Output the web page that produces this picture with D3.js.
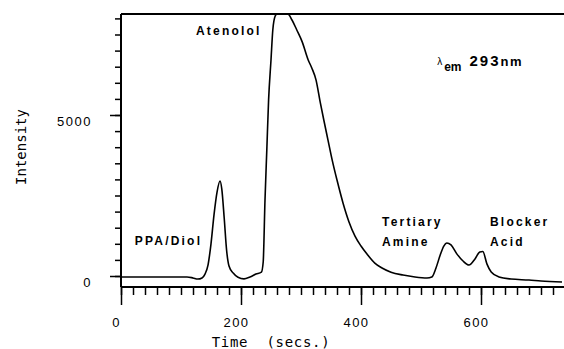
<!DOCTYPE html>
<html>
<head>
<meta charset="utf-8">
<script src="https://cdn.jsdelivr.net/npm/d3@7"></script>
<style>
  html, body { margin: 0; padding: 0; background: #fff; }
  svg { display: block; }
</style>
</head>
<body>
<svg id="chart" width="564" height="349"></svg>
<script>
// Chromatogram trace
const timeSecs = [
    0, 60, 110, 120, 128, 135, 140, 145, 150, 155, 160, 165, 168, 172, 176, 180,
    187, 195, 205, 215, 225, 234, 237, 240, 243, 246, 250, 253, 257, 260, 278,
    285, 293, 302, 312, 318, 325, 332, 338, 345, 352, 360, 370, 380, 390, 400,
    410, 423, 435, 450, 470, 490, 510, 518, 525, 532, 538, 543, 550, 560, 570,
    580, 590, 598, 603, 610, 617, 630, 650, 680, 700, 735,
];
const intensity = [
    -30, -30, -30, -60, -95, -60, 60, 340, 1000, 1900, 2600, 2950, 2700, 1800, 800, 310,
    90, -40, -90, -30, 60, 120, 435, 2360, 3910, 5470, 6710, 7640, 8075, 8140, 8140,
    7950, 7640, 7270, 6710, 6460, 6090, 5400, 4845, 4220, 3600, 2980, 2270, 1680, 1240, 930,
    680, 400, 250, 120, 30, -30, -60, -30, 250, 650, 930, 1025, 965, 680, 465,
    340, 530, 745, 760, 370, 125, -30, -95, -125, -155, -185,
];

const yMinorTicks = d3.range(0, 8001, 500);
const yMajorTicks = [0, 5000];
const xMinorTicks = d3.range(0, 735, 20);
const xMajorTicks = [0, 200, 400, 600];
const xTitle = "Time  (secs.)";
const yTitle = "Intensity";

const svg = d3.select("#chart");

// pixel frame of the original plot
const x = d3.scaleLinear().domain([0, 735]).range([121, 562]);
const y = d3.scaleLinear().domain([0, 5000]).range([276, 115]);
const plotTop = 14;
const xAxisY = 287;

const monoFont = "'DejaVu Sans Mono', monospace";
const sansFont = "'Liberation Sans', Arial, sans-serif";

svg.append("clipPath").attr("id", "plot-clip")
    .append("rect")
    .attr("x", x(0)).attr("y", plotTop)
    .attr("width", 564 - x(0)).attr("height", xAxisY - plotTop);

// Trace
const line = d3.line()
    .x((d, i) => x(timeSecs[i]))
    .y((d) => y(d))
    .curve(d3.curveMonotoneX);

svg.append("path")
    .datum(intensity)
    .attr("clip-path", "url(#plot-clip)")
    .attr("fill", "none")
    .attr("stroke", "#000")
    .attr("stroke-width", 1.6)
    .attr("stroke-linejoin", "round")
    .attr("d", line);

// Frame lines: top border, left axis, bottom axis
svg.append("line")
    .attr("x1", x(0)).attr("x2", 564)
    .attr("y1", plotTop).attr("y2", plotTop)
    .attr("stroke", "#000").attr("stroke-width", 2);
svg.append("line")
    .attr("x1", x(0)).attr("x2", x(0))
    .attr("y1", plotTop).attr("y2", xAxisY)
    .attr("stroke", "#000").attr("stroke-width", 2);
svg.append("line")
    .attr("x1", x(0)).attr("x2", 564)
    .attr("y1", xAxisY).attr("y2", xAxisY)
    .attr("stroke", "#000").attr("stroke-width", 2);

function styleTicks(g) {
    g.select(".domain").remove();
    g.selectAll(".tick line").attr("stroke", "#000").attr("stroke-width", 1.5);
}

// Y axis: minor ticks every 500, longer ticks with labels at 0 / 5000
svg.append("g")
    .attr("transform", `translate(${x(0)},0)`)
    .call(d3.axisLeft(y).tickValues(yMinorTicks).tickSize(6).tickFormat(""))
    .call(styleTicks);

const yMajor = svg.append("g")
    .attr("transform", `translate(${x(0)},0)`)
    .call(d3.axisLeft(y).tickValues(yMajorTicks).tickSize(11).tickPadding(18)
        .tickFormat(d3.format("d")))
    .call(styleTicks);
yMajor.selectAll("text")
    .attr("dy", "0.8em")
    .style("font-family", sansFont)
    .style("font-size", "13px")
    .style("letter-spacing", "1.5px")
    .style("fill", "#000");

// X axis: minor ticks every 20 s, long ticks with labels every 200 s
svg.append("g")
    .attr("transform", `translate(0,${xAxisY})`)
    .call(d3.axisBottom(x).tickValues(xMinorTicks).tickSize(8).tickFormat(""))
    .call(styleTicks);

const xMajor = svg.append("g")
    .attr("transform", `translate(0,${xAxisY})`)
    .call(d3.axisBottom(x).tickValues(xMajorTicks).tickSize(18).tickPadding(12))
    .call(styleTicks);
xMajor.selectAll("text")
    .attr("dx", -5)
    .attr("dy", "0.78em")
    .style("font-family", sansFont)
    .style("font-size", "13px")
    .style("letter-spacing", "1.5px")
    .style("fill", "#000");

// Axis titles
svg.append("text")
    .attr("x", 271).attr("y", 347)
    .attr("text-anchor", "middle")
    .style("white-space", "pre")
    .style("font-family", monoFont)
    .style("font-size", "14px")
    .style("letter-spacing", "0.7px")
    .text(xTitle);

svg.append("text")
    .attr("transform", "translate(26,147) rotate(-90)")
    .attr("text-anchor", "middle")
    .style("font-family", monoFont)
    .style("font-size", "14px")
    .text(yTitle);

// Peak annotations
const label = (tx, iy, txt) => svg.append("text")
    .attr("x", x(tx)).attr("y", y(iy))
    .style("font-family", sansFont)
    .style("font-weight", "bold")
    .style("font-size", "12px")
    .style("letter-spacing", "2.2px")
    .text(txt);

label(125, 7485, "Atenolol");
label(23, 960, "PPA/Diol");
label(435, 1550, "Tertiary");
label(435, 930, "Amine");
label(615, 1550, "Blocker");
label(615, 930, "Acid");

// Emission wavelength note
const em = svg.append("text")
    .attr("x", x(527)).attr("y", 65)
    .style("font-family", sansFont)
    .style("font-weight", "bold");
em.append("tspan").style("font-size", "10px").style("font-weight", "normal").text("λ");
em.append("tspan").attr("dx", 2).attr("dy", 6).style("font-size", "12px").text("em");
em.append("tspan").attr("dx", 8).attr("dy", -5)
    .style("font-size", "15px").style("letter-spacing", "2px").text("293");
em.append("tspan").style("font-size", "13px").style("letter-spacing", "1.5px").text("nm");
</script>
</body>
</html>
